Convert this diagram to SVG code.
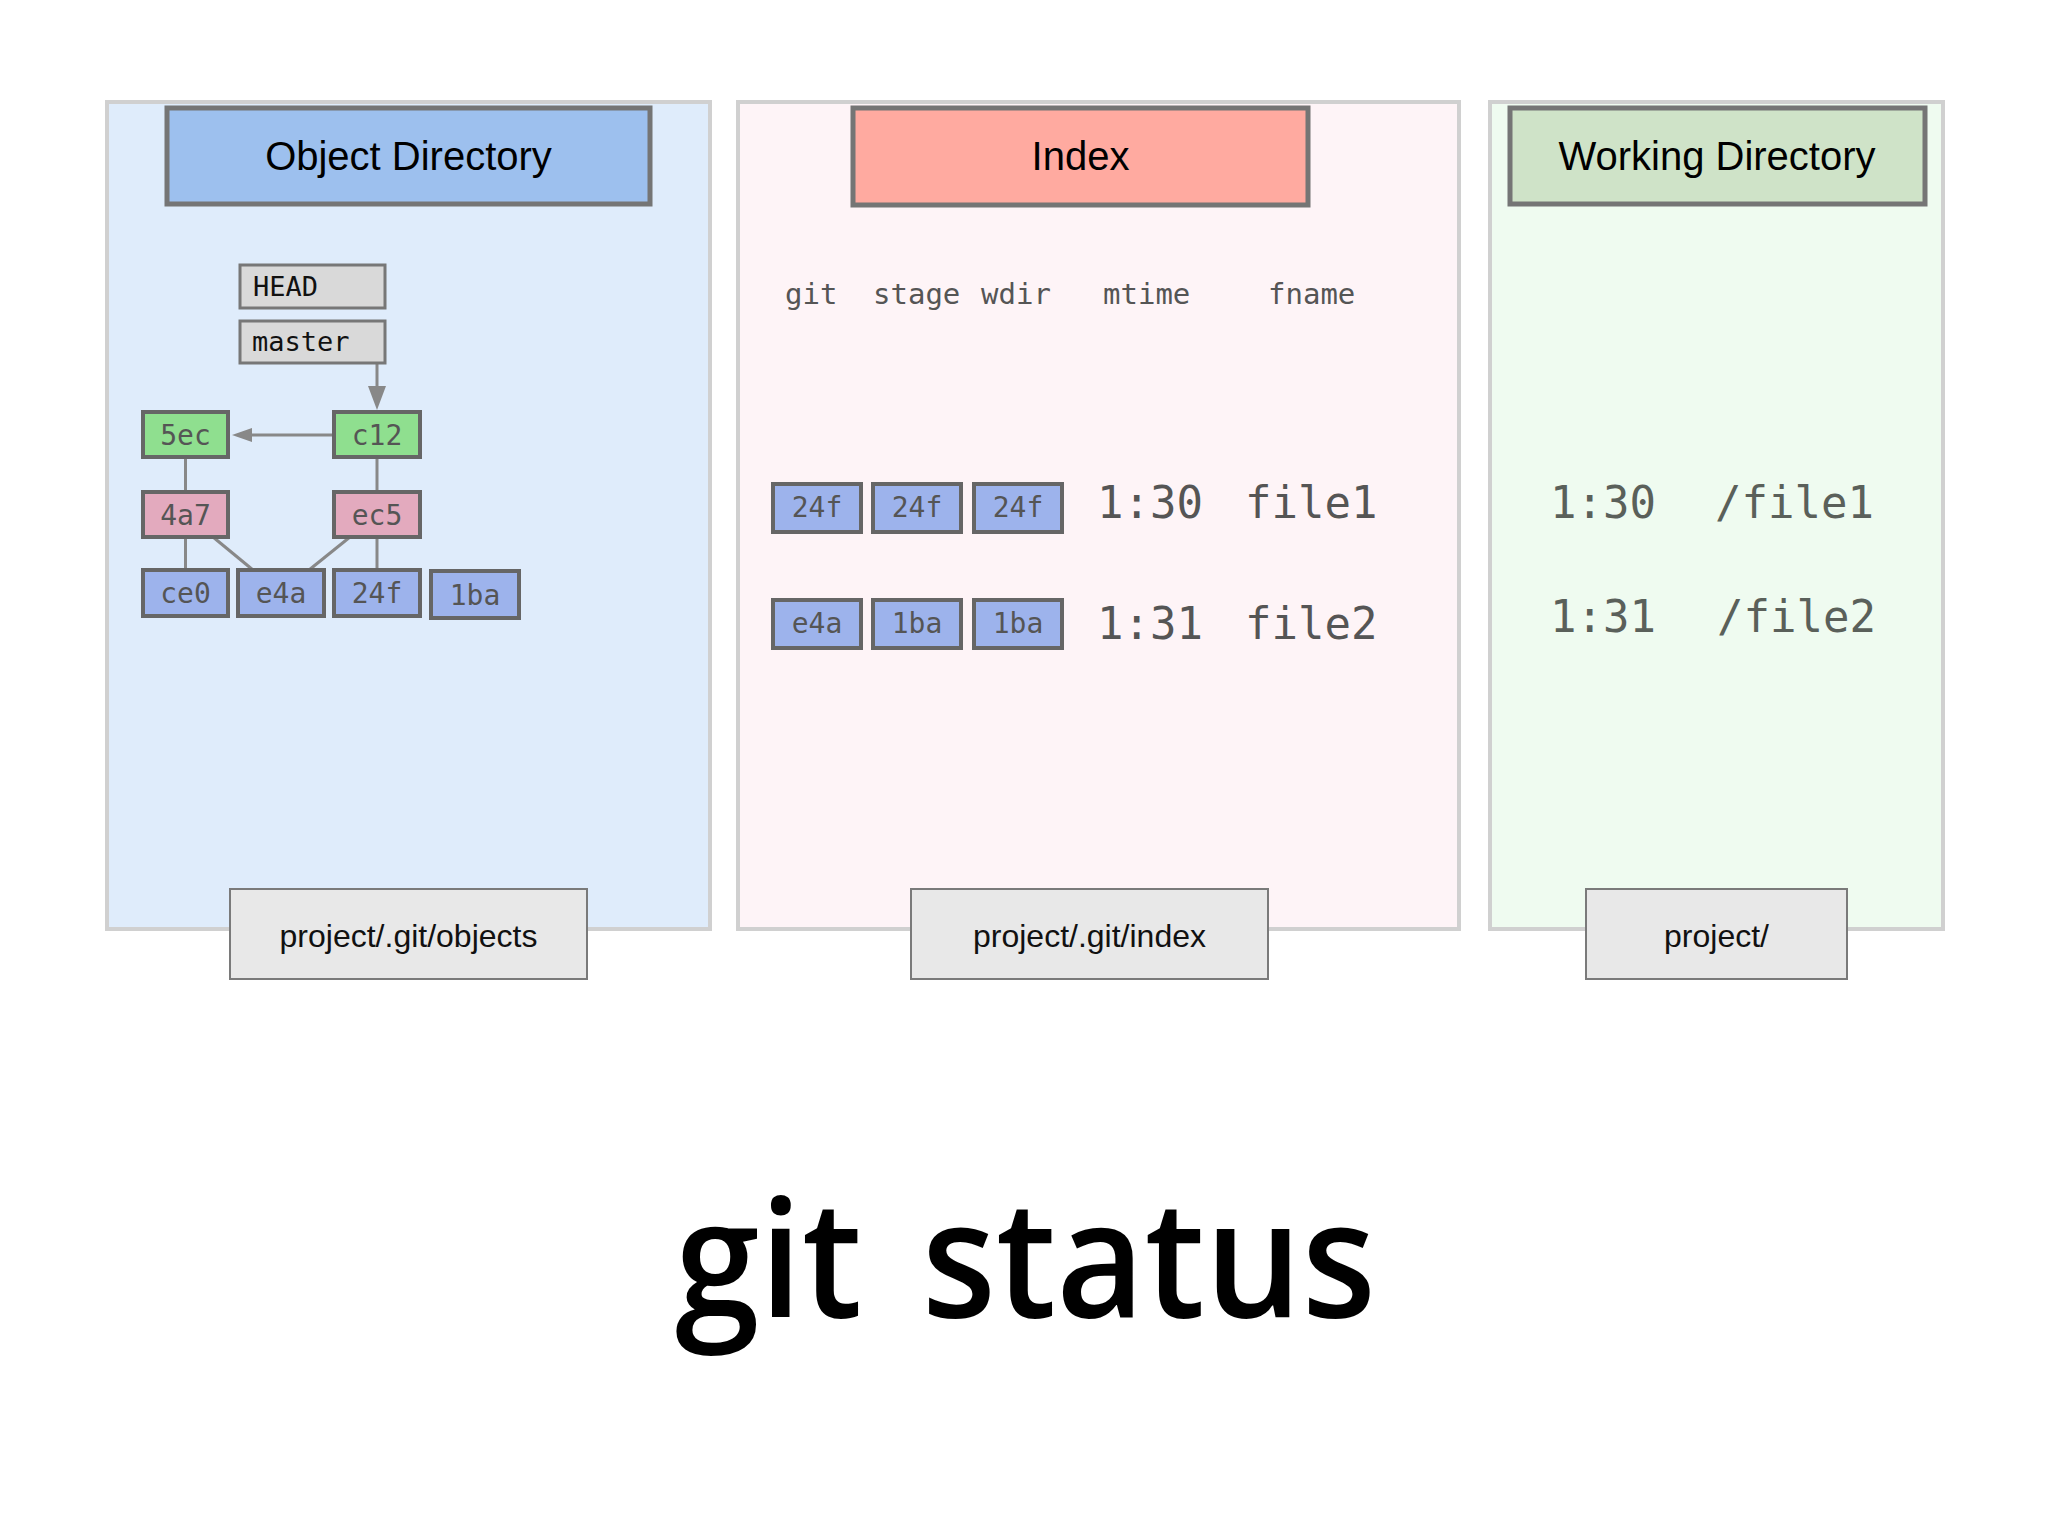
<svg xmlns="http://www.w3.org/2000/svg" width="2048" height="1536" viewBox="0 0 2048 1536">
<style>
.panel{stroke:#d0d0d0;stroke-width:4}
.hdr{stroke:#757575;stroke-width:5}
.hdrt{font-family:"Liberation Sans",Arial,sans-serif;font-size:40px;fill:#000;text-anchor:middle}
.foot{fill:#e8e8e8;stroke:#7a7a7a;stroke-width:2}
.foott{font-family:"Liberation Sans",Arial,sans-serif;font-size:32px;fill:#111;text-anchor:middle}
.ref{fill:#d9d9d9;stroke:#777;stroke-width:3}
.reft{font-family:"DejaVu Sans Mono","Liberation Mono",monospace;font-size:27px;fill:#111}
.obj{stroke:#666;stroke-width:4}
.commit{fill:#8fdf8f}
.tree{fill:#e3aabe}
.blob{fill:#9db3ec}
.hash{font-family:"DejaVu Sans Mono","Liberation Mono",monospace;font-size:28px;fill:#555;text-anchor:middle}
.col{font-family:"DejaVu Sans Mono","Liberation Mono",monospace;font-size:29px;fill:#555}
.big{font-family:"DejaVu Sans Mono","Liberation Mono",monospace;font-size:44px;fill:#555}
.wbig{font-family:"DejaVu Sans Mono","Liberation Mono",monospace;font-size:44px;fill:#5a605a}
.edge{stroke:#888;stroke-width:3;fill:none}
.head{fill:#888}
.title{font-family:"Open Sans","DejaVu Sans",sans-serif;font-weight:600;font-size:163px;fill:#000}
</style>
<rect width="2048" height="1536" fill="#fff"/>

<g id="panel-objects">
<rect class="panel" x="107" y="102" width="603" height="827" fill="#dfecfb"/>
<rect class="hdr" x="167" y="108" width="483" height="96" fill="#9dc0ee"/>
<text class="hdrt" x="408.5" y="170">Object Directory</text>
</g>
<g id="panel-index">
<rect class="panel" x="738" y="102" width="721" height="827" fill="#fef4f7"/>
<rect class="hdr" x="853" y="108" width="455" height="97" fill="#ffaaa0"/>
<text class="hdrt" x="1080.5" y="170">Index</text>
</g>
<g id="panel-wdir">
<rect class="panel" x="1490" y="102" width="453" height="827" fill="#effbf0"/>
<rect class="hdr" x="1510" y="108" width="415" height="96" fill="#cfe3c8"/>
<text class="hdrt" x="1717" y="170">Working Directory</text>
</g>

<g id="connectors">
<line class="edge" x1="377" y1="363" x2="377" y2="388"/>
<polygon class="head" points="377,410 368,386 386,386"/>
<line class="edge" x1="334" y1="435" x2="250" y2="435"/>
<polygon class="head" points="232,435 252,428 252,442"/>
<line class="edge" x1="185.5" y1="457" x2="185.5" y2="492"/>
<line class="edge" x1="377" y1="457" x2="377" y2="492"/>
<line class="edge" x1="185.5" y1="537" x2="185.5" y2="570"/>
<line class="edge" x1="213" y1="537" x2="253" y2="570"/>
<line class="edge" x1="350" y1="537" x2="309" y2="570"/>
<line class="edge" x1="377" y1="537" x2="377" y2="570"/>
</g>

<g id="ref-HEAD"><rect class="ref" x="240" y="265" width="145" height="43"/><text class="reft" x="253" y="296">HEAD</text></g>
<g id="ref-master"><rect class="ref" x="240" y="321" width="145" height="42"/><text class="reft" x="252" y="351">master</text></g>

<g id="obj-5ec"><rect class="obj commit" x="143" y="412" width="85" height="45"/><text class="hash" x="185.5" y="445">5ec</text></g>
<g id="obj-c12"><rect class="obj commit" x="334" y="412" width="86" height="45"/><text class="hash" x="377" y="445">c12</text></g>
<g id="obj-4a7"><rect class="obj tree" x="143" y="492" width="85" height="45"/><text class="hash" x="185.5" y="525">4a7</text></g>
<g id="obj-ec5"><rect class="obj tree" x="334" y="492" width="86" height="45"/><text class="hash" x="377" y="525">ec5</text></g>
<g id="obj-ce0"><rect class="obj blob" x="143" y="570" width="85" height="46"/><text class="hash" x="185.5" y="603">ce0</text></g>
<g id="obj-e4a"><rect class="obj blob" x="238" y="570" width="86" height="46"/><text class="hash" x="281" y="603">e4a</text></g>
<g id="obj-24f"><rect class="obj blob" x="334" y="570" width="86" height="46"/><text class="hash" x="377" y="603">24f</text></g>
<g id="obj-1ba"><rect class="obj blob" x="431" y="571" width="88" height="47"/><text class="hash" x="475" y="605">1ba</text></g>

<g id="index-columns">
<text class="col" x="785" y="304">git</text>
<text class="col" x="873" y="304">stage</text>
<text class="col" x="981" y="304">wdir</text>
<text class="col" x="1103" y="304">mtime</text>
<text class="col" x="1268" y="304">fname</text>
</g>

<g id="index-row1">
<rect class="obj blob" x="773" y="484" width="88" height="48"/><text class="hash" x="817" y="517">24f</text>
<rect class="obj blob" x="873" y="484" width="88" height="48"/><text class="hash" x="917" y="517">24f</text>
<rect class="obj blob" x="974" y="484" width="88" height="48"/><text class="hash" x="1018" y="517">24f</text>
<text class="big" x="1097" y="518">1:30</text>
<text class="big" x="1245" y="518">file1</text>
</g>
<g id="index-row2">
<rect class="obj blob" x="773" y="600" width="88" height="48"/><text class="hash" x="817" y="633">e4a</text>
<rect class="obj blob" x="873" y="600" width="88" height="48"/><text class="hash" x="917" y="633">1ba</text>
<rect class="obj blob" x="974" y="600" width="88" height="48"/><text class="hash" x="1018" y="633">1ba</text>
<text class="big" x="1097" y="639">1:31</text>
<text class="big" x="1245" y="639">file2</text>
</g>

<g id="wdir-files">
<text class="wbig" x="1550" y="518">1:30</text>
<text class="wbig" x="1715" y="518">/file1</text>
<text class="wbig" x="1550" y="632">1:31</text>
<text class="wbig" x="1717" y="632">/file2</text>
</g>

<g id="label-objects"><rect class="foot" x="230" y="889" width="357" height="90"/><text class="foott" x="408.5" y="947">project/.git/objects</text></g>
<g id="label-index"><rect class="foot" x="911" y="889" width="357" height="90"/><text class="foott" x="1089.5" y="947">project/.git/index</text></g>
<g id="label-wdir"><rect class="foot" x="1586" y="889" width="261" height="90"/><text class="foott" x="1716.5" y="947">project/</text></g>

<text class="title" transform="translate(675,1317) scale(0.935,1)" x="0" y="0">git <tspan x="264">status</tspan></text>
</svg>
